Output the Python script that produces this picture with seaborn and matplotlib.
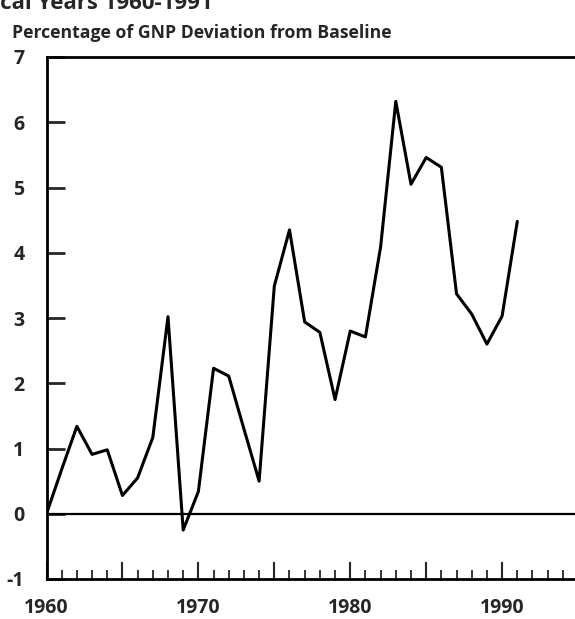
import matplotlib
matplotlib.use("Agg")
import matplotlib.pyplot as plt
import seaborn as sns
import pandas as pd
import numpy as np
from matplotlib.ticker import FixedLocator, MultipleLocator, FuncFormatter

years = list(range(1960, 1992))
deviation = [0.0, 0.68, 1.34, 0.91, 0.98, 0.28, 0.55, 1.17, 3.02, -0.25,
             0.34, 2.23, 2.11, 1.30, 0.50, 3.49, 4.35, 2.94, 2.78, 1.75,
             2.80, 2.71, 4.09, 6.32, 5.05, 5.46, 5.31, 3.37, 3.06, 2.60,
             3.03, 4.48]
y_ticks = [-1, 0, 1, 2, 3, 4, 5, 6, 7]
x_labels = [1960, 1970, 1980, 1990]
subtitle = "Percentage of GNP Deviation from Baseline"
title = "Fiscal Years 1960-1991"

df = pd.DataFrame({"year": years, "deviation": deviation})

sns.set_style("ticks")
plt.rcParams['font.family'] = ['Open Sans', 'DejaVu Sans']
plt.rcParams['font.weight'] = 'bold'

W, H = 575, 619
fig = plt.figure(figsize=(W / 100, H / 100), dpi=100)
ax = fig.add_axes([46.5 / W, (H - 579) / H, 1 - 46.5 / W, (579 - 57) / H])

sns.lineplot(data=df, x="year", y="deviation", ax=ax, color="black",
             linewidth=2.2, legend=False)
ax.axhline(0, color="black", linewidth=1.6, zorder=1)

ax.set_xlim(1960, 1994.8)
ax.set_ylim(-1, 7)
ax.set_xlabel("")
ax.set_ylabel("")

ax.xaxis.set_major_locator(MultipleLocator(5))
ax.xaxis.set_minor_locator(MultipleLocator(1))
ax.xaxis.set_major_formatter(FuncFormatter(
    lambda v, p: str(int(round(v))) if int(round(v)) in x_labels else ""))
ax.set_yticks(y_ticks)
ax.set_yticklabels([str(v) for v in y_ticks])

ax.tick_params(axis="x", which="major", direction="in", length=12, width=1.5,
               pad=14, labelsize=14, bottom=True, top=False)
ax.tick_params(axis="x", which="minor", direction="in", length=6.5, width=1.3,
               bottom=True, top=False)
ax.tick_params(axis="y", which="major", direction="in", length=13, width=2,
               pad=16, labelsize=14)
for lab in ax.get_xticklabels() + ax.get_yticklabels():
    lab.set_fontweight("bold")

for s in ["left", "bottom", "top"]:
    ax.spines[s].set_visible(True)
    ax.spines[s].set_linewidth(2.0)
    ax.spines[s].set_color("black")
ax.spines["right"].set_visible(False)

fig.text(12 / W, (H - 38) / H, subtitle, fontsize=12.7, fontweight="bold",
         ha="left", va="baseline")
fig.text(213 / W, (H - 9) / H, title, fontsize=16, fontweight="bold",
         ha="right", va="baseline")

fig.savefig("out.png", dpi=100)
